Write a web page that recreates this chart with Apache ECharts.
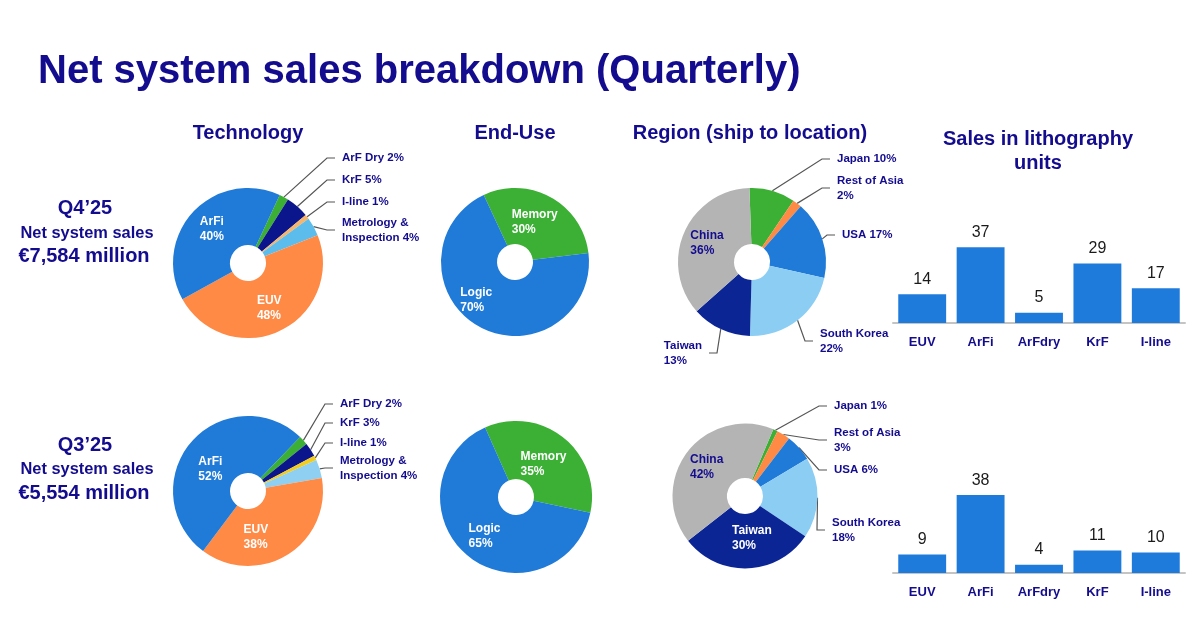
<!DOCTYPE html>
<html>
<head>
<meta charset="utf-8">
<title>Net system sales breakdown (Quarterly)</title>
<script src="https://cdn.jsdelivr.net/npm/echarts@6/dist/echarts.min.js"></script>
<style>
	html, body { margin: 0; padding: 0; background: #ffffff; }
	#main { width: 1193px; height: 635px; }
</style>
</head>
<body>
<div id="main"></div>
<script>
'use strict';

// chart data
var quarters = ['Q4\u201925', 'Q3\u201925'];
var netSales = ['\u20ac7,584 million', '\u20ac5,554 million'];

var techNames = ['ArF Dry', 'KrF', 'I-line', 'Metrology & Inspection', 'EUV', 'ArFi'];
var techQ4 = [2, 5, 1, 4, 48, 40];
var techQ3 = [2, 3, 1, 4, 38, 52];

var endUseNames = ['Memory', 'Logic'];
var endUseQ4 = [30, 70];
var endUseQ3 = [35, 65];

var regionNames = ['Japan', 'Rest of Asia', 'USA', 'South Korea', 'Taiwan', 'China'];
var regionQ4 = [10, 2, 17, 22, 13, 36];
var regionQ3 = [1, 3, 6, 18, 30, 42];

var unitCategories = ['EUV', 'ArFi', 'ArFdry', 'KrF', 'I-line'];
var unitsQ4 = [14, 37, 5, 29, 17];
var unitsQ3 = [9, 38, 4, 11, 10];

// colours
var navyText = '#140c8e';
var techColorsQ4 = ['#3bb034', '#0b168c', '#f7b56c', '#5cbcec', '#ff8a45', '#1f7ad8'];
var techColorsQ3 = ['#3bb034', '#0b168c', '#f4cc1c', '#8fd0f2', '#ff8a45', '#1f7ad8'];
var endUseColors = ['#3bb034', '#1f7ad8'];
var regionColors = ['#3bb034', '#ff8a45', '#1f7ad8', '#8ccdf4', '#0c2595', '#b4b4b4'];
var barColor = '#1f7bdb';

var font = '"Liberation Sans", Arial, Helvetica, sans-serif';

// names that get their own line break in the outside labels
var displayNames = { 'Metrology & Inspection': 'Metrology &\nInspection' };
var twoLine = ['Rest of Asia', 'South Korea', 'Taiwan'];

// where the outside labels sit, relative to the pie centre [dx, dy, align]
var techSpotsQ4 = { 0: [94, -105], 1: [94, -83], 2: [94, -61], 3: [94, -33] };
var techSpotsQ3 = { 0: [92, -87], 1: [92, -68], 2: [92, -48], 3: [92, -23] };
var regionSpotsQ4 = { 0: [85, -103], 1: [85, -74], 2: [90, -27], 3: [68, 79], 4: [-50, 91, 'right'] };
var regionSpotsQ3 = { 0: [89, -90], 1: [89, -56], 2: [89, -26], 3: [87, 34] };

// small nudges for the labels drawn inside the slices [dx, dy]
var techNudgeQ3 = { 4: [-18, 4], 5: [0, 10] };
var endUseNudgeQ4 = { 0: [-4, 3], 1: [-15, -5] };
var endUseNudgeQ3 = { 0: [-4, 6] };
var regionNudgeQ3 = { 4: [5, -6] };

function labelText(name, value) {
	var shown = displayNames[name] || name;
	var sep = twoLine.indexOf(name) >= 0 ? '\n' : ' ';
	var lines = (shown + sep + value + '%').split('\n');
	return lines.map(function(l) { return '{t|' + l + '}'; }).join('\n');
}

function insideText(name, value) {
	return '{t|' + name + '}\n{t|' + value + '%}';
}

// moves outside labels to their spot and draws the elbow leader line
function spotLayout(spots, nudges, cx, cy) {
	return function(params) {
		var n = nudges[params.dataIndex];
		if (n) {
			return { dx: n[0], dy: n[1] };
		}
		var s = spots[params.dataIndex];
		if (!s) {
			return {};
		}
		var side = s[2] || 'left';
		var x = cx + s[0];
		var y = cy + s[1];
		var pts = params.labelLinePoints;
		var start = pts ? pts[0] : [x, y];
		var elbowX = side === 'left' ? x - 15 : x + 15;
		var endX = side === 'left' ? x - 7 : x + 7;
		return {
			x: x,
			y: y,
			align: side,
			verticalAlign: 'middle',
			labelLinePoints: [start, [elbowX, y], [endX, y]]
		};
	};
}

function pieSeries(names, values, colors, cfg) {
	var data = [];
	for (var i = 0; i < names.length; i++) {
		var item = {
			name: names[i],
			value: values[i],
			itemStyle: { color: colors[i] }
		};
		if (cfg.inside.indexOf(names[i]) >= 0) {
			var dark = (cfg.darkInside || []).indexOf(names[i]) >= 0;
			item.label = {
				position: 'inside',
				formatter: function(p) { return insideText(p.name, p.value); },
				rich: {
					t: {
						align: 'left',
						color: dark ? navyText : '#ffffff',
						fontFamily: font,
						fontWeight: 'bold',
						fontSize: 12,
						lineHeight: 15
					}
				}
			};
			item.labelLine = { show: false };
		}
		data.push(item);
	}
	return {
		type: 'pie',
		center: cfg.center,
		radius: [18, cfg.r],
		startAngle: cfg.startAngle,
		clockwise: true,
		avoidLabelOverlap: false,
		silent: true,
		animation: false,
		label: {
			show: true,
			position: 'outside',
			overflow: 'none',
			formatter: function(p) { return labelText(p.name, p.value); },
			rich: {
				t: {
					align: 'left',
					color: navyText,
					fontFamily: font,
					fontWeight: 'bold',
					fontSize: 11.5,
					lineHeight: 15
				}
			}
		},
		labelLine: {
			show: true,
			length: 10,
			length2: 10,
			lineStyle: { color: '#555555', width: 1.2 }
		},
		labelLayout: spotLayout(cfg.spots || {}, cfg.nudges || {}, cfg.center[0], cfg.center[1]),
		data: data
	};
}

function barSeries(values, gridIndex) {
	return {
		type: 'bar',
		xAxisIndex: gridIndex,
		yAxisIndex: gridIndex,
		data: values,
		barCategoryGap: '18%',
		silent: true,
		animation: false,
		itemStyle: { color: barColor },
		label: {
			show: true,
			position: 'top',
			distance: 7,
			color: '#1a1a1a',
			fontFamily: font,
			fontSize: 16
		}
	};
}

function textItem(text, x, y, size, align) {
	return {
		type: 'text',
		x: x,
		y: y,
		silent: true,
		style: {
			text: text,
			fill: navyText,
			font: 'bold ' + size + 'px ' + font,
			textAlign: align || 'center',
			textVerticalAlign: 'middle'
		}
	};
}

var myChart = echarts.init(document.getElementById('main'), null, { renderer: 'canvas' });

var xAxes = [];
var yAxes = [];
var grids = [];
var gridTops = [241, 491];
for (var g = 0; g < 2; g++) {
	grids.push({ left: 893, top: gridTops[g], width: 292, height: 82 });
	xAxes.push({
		type: 'category',
		gridIndex: g,
		data: unitCategories,
		axisTick: { show: false },
		axisLine: { lineStyle: { color: '#c4c4c4', width: 2 } },
		axisLabel: {
			margin: 13,
			color: navyText,
			fontFamily: font,
			fontWeight: 'bold',
			fontSize: 13
		}
	});
	yAxes.push({
		type: 'value',
		gridIndex: g,
		min: 0,
		max: 40,
		show: false,
		splitLine: { show: false }
	});
}

var option = {
	backgroundColor: '#ffffff',
	animation: false,
	grid: grids,
	xAxis: xAxes,
	yAxis: yAxes,
	graphic: [
		textItem('Net system sales breakdown (Quarterly)', 38, 72, 40, 'left'),
		textItem('Technology', 248, 133, 20),
		textItem('End-Use', 515, 133, 20),
		textItem('Region (ship to location)', 750, 133, 20),
		textItem('Sales in lithography', 1038, 139, 20),
		textItem('units', 1038, 163, 20),
		textItem(quarters[0], 85, 208, 20),
		textItem('Net system sales', 87, 233, 16.4),
		textItem(netSales[0], 84, 256, 20),
		textItem(quarters[1], 85, 445, 20),
		textItem('Net system sales', 87, 469, 16.4),
		textItem(netSales[1], 84, 493, 20)
	],
	series: [
		pieSeries(techNames, techQ4, techColorsQ4, {
			center: [248, 263], r: 75, startAngle: 65,
			inside: ['EUV', 'ArFi'], spots: techSpotsQ4
		}),
		pieSeries(techNames, techQ3, techColorsQ3, {
			center: [248, 491], r: 75, startAngle: 46,
			inside: ['EUV', 'ArFi'], spots: techSpotsQ3, nudges: techNudgeQ3
		}),
		pieSeries(endUseNames, endUseQ4, endUseColors, {
			center: [515, 262], r: 74, startAngle: 115,
			inside: ['Memory', 'Logic'], nudges: endUseNudgeQ4
		}),
		pieSeries(endUseNames, endUseQ3, endUseColors, {
			center: [516, 497], r: 76, startAngle: 114,
			inside: ['Memory', 'Logic'], nudges: endUseNudgeQ3
		}),
		pieSeries(regionNames, regionQ4, regionColors, {
			center: [752, 262], r: 74, startAngle: 92,
			inside: ['China'], darkInside: ['China'], spots: regionSpotsQ4
		}),
		pieSeries(regionNames, regionQ3, regionColors, {
			center: [745, 496], r: 72.5, startAngle: 67,
			inside: ['China', 'Taiwan'], darkInside: ['China'], spots: regionSpotsQ3, nudges: regionNudgeQ3
		}),
		barSeries(unitsQ4, 0),
		barSeries(unitsQ3, 1)
	]
};

myChart.setOption(option);
</script>
</body>
</html>
